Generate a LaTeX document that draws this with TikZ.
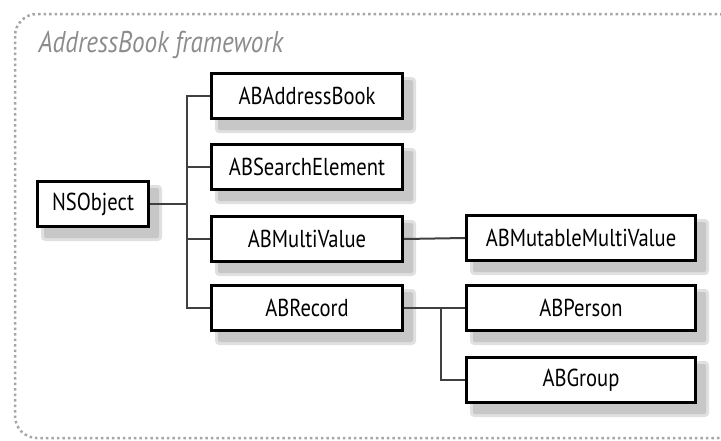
\documentclass[tikz,border=0pt]{standalone}
\usepackage{fontspec}
\setmainfont{PT Sans}[FakeStretch=0.84]
\usetikzlibrary{positioning,backgrounds}
\tikzset{
  classbox/.style={draw=black,line width=3pt,fill=white,minimum width=191pt,
    minimum height=45pt,inner sep=0pt,font=\fontsize{24.5}{26}\selectfont},
  shade1/.style={fill=black!12},
  shade2/.style={fill=black!22},
  link/.style={line width=2pt,draw=black!75},
  frame/.style={draw=black!35,line width=2.5pt,dash pattern=on 2.5pt off 3pt,rounded corners=22pt}
}

\begin{document}
\begin{tikzpicture}[x=1pt,y=-1pt]
\useasboundingbox (0,0) rectangle (721,440);
\draw[frame] (15,14) rectangle (740,438);
\node[anchor=base west,text=black!45,font=\fontsize{30}{32}\selectfont\itshape] (title) at (35,52) {AddressBook framework};
% classes
\node[classbox,minimum width=111pt] (nsobj) at (93,204) {NSObject};
\node[classbox] (addr) at (307,96) {ABAddressBook};
\node[classbox] (search) at (307,167) {ABSearchElement};
\node[classbox] (multi) at (307,239) {ABMultiValue};
\node[classbox] (record) at (307,308) {ABRecord};
\node[classbox,minimum width=229pt] (mutable) at (581,238) {ABMutableMultiValue};
\node[classbox,minimum width=229pt] (person) at (581,308) {ABPerson};
\node[classbox,minimum width=229pt] (group) at (581,380) {ABGroup};
% shadows
\begin{scope}[on background layer]
\foreach \n in {nsobj,addr,search,multi,record,mutable,person,group}{
  \fill[shade1,rounded corners=4pt] ([shift={(5,13)}]\n.south west) rectangle ([shift={(12,5)}]\n.north east);
  \fill[shade2,rounded corners=2pt] ([shift={(8,10)}]\n.south west) rectangle ([shift={(9,8)}]\n.north east);
}
\end{scope}
% inheritance lines
\coordinate (j1) at (187,204);
\draw[link] (nsobj.east) -- (j1);
\foreach \n in {addr,search,multi,record}
  \draw[link] (j1) |- (\n.west);
\draw[link] (multi.east) -- (mutable.west);
\coordinate (j2) at (441,308);
\draw[link] (record.east) -- (person.west);
\draw[link] (j2) |- (group.west);
\end{tikzpicture}
\end{document}
